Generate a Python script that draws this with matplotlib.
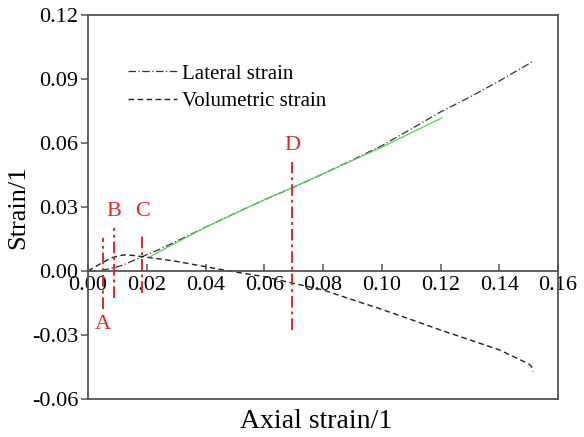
import numpy as np
import matplotlib.pyplot as plt

plt.rcParams['font.family'] = ['Liberation Serif', 'DejaVu Serif']

# lateral strain (dash-dot)
lat_x = [0, 0.004, 0.008, 0.012, 0.016, 0.0185, 0.025, 0.03, 0.04, 0.05, 0.06, 0.07,
         0.08, 0.09, 0.10, 0.11, 0.12, 0.13, 0.14, 0.15, 0.1515]
lat_y = [0, 0.0002, 0.0012, 0.0028, 0.0052, 0.0067, 0.0105, 0.0138, 0.0205, 0.027, 0.0333, 0.0392,
         0.0455, 0.052, 0.0587, 0.0665, 0.0745, 0.0815, 0.089, 0.097, 0.0984]

# volumetric strain (dashed)
vol_x = [0, 0.004, 0.008, 0.012, 0.015, 0.0185, 0.025, 0.03, 0.04, 0.048, 0.06, 0.07,
         0.08, 0.09, 0.10, 0.11, 0.12, 0.13, 0.14, 0.15, 0.151, 0.1515]
vol_y = [0, 0.0032, 0.0062, 0.0075, 0.0073, 0.0067, 0.0055, 0.0045, 0.002, 0.0, -0.0027, -0.0058,
         -0.0089, -0.0135, -0.018, -0.0228, -0.0277, -0.0323, -0.037, -0.0435, -0.0448, -0.0472]

# linear fit segment (green)
fit_x = [0.021, 0.04, 0.06, 0.08, 0.10, 0.1205]
fit_y = [0.0066, 0.0205, 0.0333, 0.0455, 0.058, 0.0717]

# characteristic points A-D
mark_labels = ['A', 'B', 'C', 'D']
mark_x = [0.0052, 0.0089, 0.0185, 0.0695]
mark_top = [0.0155, 0.020, 0.018, 0.051]
mark_bottom = [-0.018, -0.0127, -0.0105, -0.0277]
label_y = [-0.0253, 0.0277, 0.0277, 0.059]

fig = plt.figure(figsize=(5.84, 4.37), dpi=100)
ax = fig.add_axes([0.1507, 0.087, 0.8048, 0.8790])

ax.plot(lat_x, lat_y, color='#333333', lw=0.9, ls=(0, (6, 2, 1, 2)), label='Lateral strain')
ax.plot(vol_x, vol_y, color='#222222', lw=1.0, ls=(0, (4, 2.5)), label='Volumetric strain')
ax.plot(fit_x, fit_y, color='#5cd05c', lw=0.9)

for lx, lt, lb, ly, lab in zip(mark_x, mark_top, mark_bottom, label_y, mark_labels):
    ax.vlines(lx, lb, lt, colors='#e8262a', lw=1.4, linestyles=(0, (6, 2, 1.5, 2)))
    ax.text(lx, ly, lab, color='#e8262a', fontsize=16, ha='center', va='center')

ax.set_xlim(0, 0.16)
ax.set_ylim(-0.06, 0.12)
ax.set_xticks(np.arange(0, 0.161, 0.02))
ax.set_yticks(np.arange(-0.06, 0.121, 0.03))
ax.xaxis.set_major_formatter(plt.FormatStrFormatter('%.2f'))
ax.yaxis.set_major_formatter(plt.FormatStrFormatter('%.2f'))

# x axis runs through y = 0, the frame still closes at the bottom
ax.spines['bottom'].set_position(('data', 0))
for s in ax.spines.values():
    s.set_color('#555555')
    s.set_linewidth(1.3)
ax.axhline(-0.06, color='#555555', lw=1.3, clip_on=False)

ax.tick_params(axis='x', direction='in', length=5, width=1.1, color='#555555',
               labelsize=16, pad=3.5)
ax.tick_params(axis='y', direction='out', length=5, width=1.1, color='#555555',
               labelsize=16, pad=2)

ax.set_xlabel('Axial strain/1', fontsize=20)
ax.xaxis.set_label_coords(0.485, -0.025)
ax.set_ylabel('Strain/1', fontsize=19)
ax.yaxis.set_label_coords(-0.125, 0.5)

ax.legend(loc='upper left', bbox_to_anchor=(0.085, 0.872), frameon=False, fontsize=15,
          handlelength=2.35, handletextpad=0.25, labelspacing=0.38, borderpad=0,
          borderaxespad=0)

fig.savefig('out.png', dpi=100)
